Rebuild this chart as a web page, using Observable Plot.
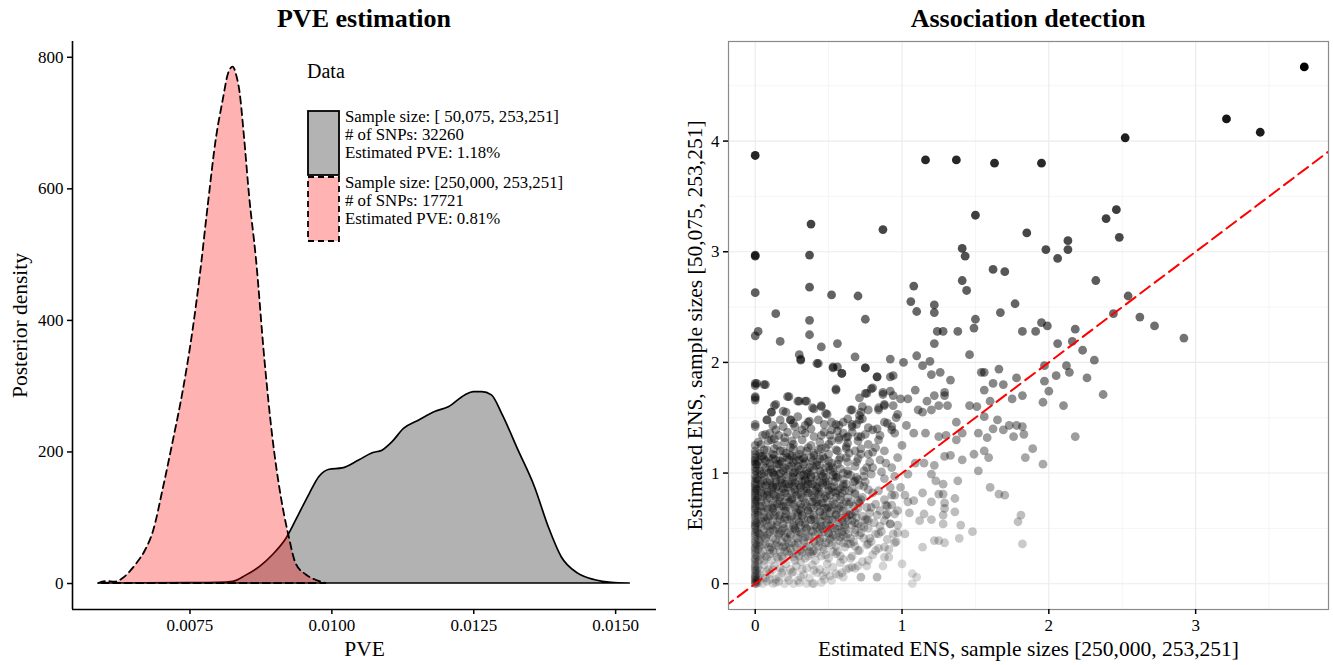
<!DOCTYPE html>
<html>
<head>
<meta charset="utf-8">
<script src="https://cdn.jsdelivr.net/npm/d3@7"></script>
<script src="https://cdn.jsdelivr.net/npm/@observablehq/plot@0.6"></script>
<style>
  body { margin: 0; background: #fff; }
  #root { position: relative; width: 1333px; height: 665px; font-family: 'Liberation Serif', 'Times New Roman', serif; color: #000; overflow: hidden; }
  .ptitle { position: absolute; top: 6px; font-weight: bold; font-size: 26px; line-height: 25px; text-align: center; }
  .leg { position: absolute; font-size: 16.8px; line-height: 18px; white-space: nowrap; }
</style>
</head>
<body>
<div id="root">
  <div class="ptitle" style="left:72px;width:584px;">PVE estimation</div>
  <div class="ptitle" style="left:728px;width:600px;">Association detection</div>
  <div id="left" style="position:absolute;left:0;top:30px;"></div>
  <div id="right" style="position:absolute;left:666px;top:30px;"></div>
  <div id="legend"></div>
</div>
<script>
// ---------- Left panel: posterior densities of PVE ----------
const pveGreyX = [0.0059,0.0075,0.0080,0.00826,0.00849,0.00873,0.00896,0.0092,0.00943,0.00961,0.00978,0.00996,0.01019,0.01048,0.01072,0.01089,0.01107,0.01127,0.01154,0.01183,0.01206,0.01235,0.0125,0.01265,0.01282,0.0130,0.01329,0.01358,0.01382,0.01405,0.01434,0.01464,0.01493,0.01525];
const pveGreyDensity = [0,0.5,1,2.5,12,25,43,68,106,136,162,173,175,187,198,202,215,235,248,261,268,286,291,291,286,258,202,146,86,40,15,5,1,0];
const pvePinkX = [0.00589,0.00603,0.00618,0.00633,0.00645,0.00658,0.00671,0.00686,0.00703,0.00721,0.00738,0.00756,0.00768,0.00782,0.00797,0.00808,0.00818,0.00826,0.00833,0.00838,0.00846,0.00855,0.00867,0.00882,0.00896,0.00911,0.00925,0.00937,0.00955,0.00972,0.0099];
const pvePinkDensity = [0,3,2,8,18,32,49,80,144,218,292,388,467,573,679,732,775,785,770,748,679,589,494,340,222,131,70,30,13,5,0];
const leftXDomain = [0.00543, 0.01572];
const leftYDomain = [-39.5, 824];
const leftXTicks = [0.0075, 0.0100, 0.0125, 0.0150];
const leftYTicks = [0, 200, 400, 600, 800];
const legendTitle = "Data";
const legendGrey = ["Sample size: [ 50,075, 253,251]", "# of SNPs: 32260", "Estimated PVE: 1.18%"];
const legendPink = ["Sample size: [250,000, 253,251]", "# of SNPs: 17721", "Estimated PVE: 0.81%"];

// ---------- Right panel: estimated ENS ----------
const ensXDomain = [-0.182, 3.905];
const ensYDomain = [-0.233, 4.9];
const ensXTicks = [0, 1, 2, 3];
const ensYTicks = [0, 1, 2, 3, 4];
const ensXMinor = [0.5, 1.5, 2.5, 3.5];
const ensYMinor = [0.5, 1.5, 2.5, 3.5, 4.5];
const diagonal = [-1, 6];
const ensPoints = [
[0,3.87],[0,2.96],[0,2.97],[0,2.63],[3.74,4.67],[3.21,4.2],[3.44,4.08],[2.52,4.03],[1.16,3.83],[1.37,3.83],[1.63,3.8],[1.95,3.8],
[0.38,3.25],[0.87,3.2],[1.5,3.33],[1.85,3.17],[1.41,3.03],[1.43,2.96],[1.98,3.02],[2.13,3.1],[2.13,3.02],[2.06,2.94],[2.39,3.3],[2.46,3.38],
[2.48,3.13],[0.37,2.97],[0.37,2.68],[0.52,2.61],[0.7,2.6],[1.62,2.84],[1.7,2.82],[1.41,2.74],[1.44,2.65],[1.08,2.69],[2.32,2.74],[2.54,2.6],
[1.06,2.55],[1.1,2.46],[1.22,2.52],[1.22,2.45],[1.77,2.53],[1.67,2.45],[2.62,2.41],[2.44,2.44],[2.72,2.33],[0.14,2.44],[0.37,2.38],[0.75,2.39],
[1.5,2.39],[1.95,2.36],[1.99,2.33],[2.18,2.3],[1.49,2.31],[1.82,2.28],[1.91,2.28],[1.24,2.28],[1.28,2.28],[1.38,2.28],[0.02,2.28],
[2.92,2.22],[2.18,1.33],[2.37,1.71],[2.26,1.86],[2.31,2.02],[2.23,2.11],[2.16,2.19],[2.06,2.17],[2.14,1.91],[2.12,1.97],[2.1,1.61],[1.96,1.64],
[2.0,1.74],[2.05,1.88],[1.97,1.83],[1.97,1.97],[1.96,1.08],[1.89,1.22],[1.84,1.14],[1.83,1.35],[1.82,1.42],[1.78,1.43],[1.73,1.43],[1.69,1.39],
[1.76,1.33],[1.82,1.7],[1.78,1.86],[1.75,1.67],[1.69,1.8],[1.62,1.81],[1.66,1.94],[1.56,1.91],[1.56,1.75],[1.62,1.4],[1.65,1.48],[1.56,1.51],
[1.6,1.65],[1.51,1.6],[1.46,1.61],[1.52,1.36],[1.58,1.32],[1.56,1.2],[1.59,1.14],[1.52,1.02],[1.49,1.17],[1.6,0.87],[1.66,0.81],[1.7,0.8],
[1.81,0.62],[1.79,0.56],[1.82,0.36],[1.48,0.47],[1.39,0.41],[1.4,0.53],[1.36,0.65],[1.36,0.77],[1.38,0.93],[1.41,1.12],[1.41,1.36],[1.37,1.46],
[1.46,2.07],[1.54,1.91],[1.26,1.91],[1.2,1.89],[1.14,1.97],[1.19,2.01],[1.1,2.06],[1.22,2.17],[1.01,2.0],[0.92,2.03],[0.92,1.87],[0.83,1.87],
[0.75,1.95],[0.68,2.05],[0.56,2.17],[0.45,2.14],[0.37,2.25],[0.17,2.19],[0.3,2.07],[0.31,2.03],[0.42,1.99],[0.53,1.95],[0.56,1.96],[0.59,1.9],
[0.55,1.75],[0.75,1.72],[0.8,1.77],[0.87,1.71],[0.94,1.7],[0.99,1.67],[1.04,1.67],[1.09,1.75],[1.11,1.57],[1.14,1.55],[1.17,1.65],[1.22,1.7],
[1.25,1.61],[1.29,1.7],[1.31,1.61],[1.33,1.84],[1.29,1.73],[1.2,1.57],[0,1.81],[0.06,1.8],[0,1.69],[0,1.66],[0,1.42],[0.08,1.48],[0,2.24],
[0.22,1.69],[0.19,1.56],[0.13,1.61],[0.11,1.55],[0.29,1.65],[0.34,1.65],[0.39,1.59],[0.45,1.61],[0.48,1.54],[0.65,1.57],[0.73,1.6],[0.71,1.52],
[0.84,1.57],[0.88,1.61],[0.96,1.5],[1.03,1.43],[1.08,1.36],[1.16,1.36],[1.25,1.33],[1.3,1.34],[1.37,1.3],[1.33,1.16],[1.29,1.15],[1.22,1.07],
[1.15,1.09],[1.09,1.09],[1.04,0.99],[1.2,0.99],[1.23,0.93],[1.28,0.9],[1.28,0.81],[1.25,0.81],[1.29,0.73],[1.29,0.68],[1.2,0.74],[1.14,0.82],
[1.08,0.75],[1.04,0.74],[1.02,0.8],[0.99,0.87],[0.97,0.66],[1.05,0.64],[1.15,0.63],[1.2,0.58],[1.12,0.57],[1.28,0.54],[1.28,0.62],[1.22,0.39],
[1.25,0.39],[1.29,0.37],[1.14,0.33],[1.02,0.45],[0.94,0.45],[0.96,0.38],[0.91,0.31],[0.88,0.24],[0.87,0.16],[1.0,0.18],[1.07,0.09],[1.1,0.06],
[1.07,0.0],[0.83,0.06],[0.72,0.06],[0.64,0.14],[0.68,0.14],[0.76,0.16],[0.57,0.08],[0.52,0.03],[0.4,0.0],[0.26,0.0],[0.14,0.01],[0.46,0.07],
[0.65,0.23],[0.77,0.21],[0.82,0.3],[0.78,0.41],[0.84,0.45],[0.85,0.52],[0.92,0.54],[0.89,0.62],[0.83,0.62],[0.77,0.57],[0.79,0.69],[0.93,0.71],
[0.88,0.76],[0.84,0.84],[0.92,0.87],[0.88,0.95],[0.95,0.97],[0.93,1.05],[0.89,1.09],[0.97,1.14],[1.0,1.25],[0.95,1.36],[0.93,1.42],[0.9,1.45],
[0.85,1.34],[0.8,1.39],[0.82,1.23],[0.77,1.17],[0.72,1.17],[0.69,1.1],[0.62,1.14],[0.62,1.22],[0.57,1.32],[0.52,1.29],[0.45,1.34],[0.52,1.39],
[0.57,1.43],[0.66,1.44],[0.71,1.48],[0.63,1.33],[0.72,1.33],[0.43,1.48],[0.36,1.46],[0.29,1.51],[0.24,1.48],[0.19,1.42],[0.14,1.39],[0.11,1.3],
[0.05,1.34],[0.02,1.28],[0,1.14],[0.01,1.08],[0.01,1.02],[0,0.9],[0.05,0.93],[0.12,0.87],[0.2,0.9],[0.26,0.96],[0.32,0.92],[0.38,0.96],
[0.43,0.87],[0.48,0.96],[0.53,1.05],[0.56,0.96],[0.63,0.99],[0.69,0.96],[0.75,0.92],[0.79,0.99],[0.76,1.05],
[0.01,1.81],[0.07,1.8],[0,1.68],[0.23,1.69],[0.14,1.62],[0.11,1.55],[0.21,1.55],[0.3,1.65],[0.35,1.65],[0.4,1.58],[0.45,1.6],[0.49,1.53],
[0.55,1.76],[0.53,1.96],[0.59,1.9],[0.75,1.95],[0.83,1.87],[0.94,1.88],[0.43,1.99],[0.31,2.02],[0.76,1.72],[0.79,1.76],[0.71,1.68],[0.66,1.57],
[0.72,1.55],[0.77,1.57],[0.87,1.73],[0.92,1.74],[0.84,1.59],[0.88,1.62],[0.94,1.61],[0.97,1.53],[0.08,1.48],[0,1.44],[0.17,1.48],[0.24,1.48],
[0.27,1.42],[0.37,1.47],[0.32,1.39],[0.38,1.4],[0.52,1.46],[0.55,1.44],[0.63,1.49],[0.66,1.42],[0.73,1.49],[0.77,1.41],[0.83,1.4],[0.88,1.46],
[0.93,1.39],[0.07,1.35],[0.13,1.31],[0.2,1.32],[0.25,1.29],[0.47,1.37],[0.51,1.34],[0.56,1.38],[0.62,1.32],[0.7,1.33],
[0.91,0.24],[0.83,0.06],[0.72,0.06],[0.88,0.33],[0.95,0.37],[0.97,0.46],[0.92,0.54],[0.9,0.63],[0.89,0.71],[0.95,0.8],[0.82,0.45],[0.77,0.36],
[0.7,0.3],[0.66,0.15],[0.59,0.1],[0.51,0.07],[0.45,0.01],[0.39,0.0],
[0,0],[0,0.01],[0,0.02],[0,0.03],[0,0.05],[0,0.07],[0,0.1],[0,0.12],[0,0.15],[0,0.18],[0,0.2],[0,0.23],[0,0.26],[0,0.3],[0,0.33],[0,0.36],
[0,0.4],[0,0.43],[0,0.47],[0,0.5],[0,0.53],[0,0.57],[0,0.6],[0,0.64],[0,0.67],[0,0.7],[0,0.74],[0,0.78],[0,0.82],[0,0.86],[0,0.95],[0,1.02],
[0,1.08],[0,1.12],[0,1.2],[0,1.25],[0,1.79],[0,0.0],[0.01,0.04],[0.01,0.09],
[0.02,0.01],[0.05,0.0],[0.08,0.02],[0.12,0.0],[0.16,0.02],[0.2,0.0],[0.3,0.01],[0.35,0.0],
[0.03,0.08],[0.07,0.05],[0.1,0.09],[0.14,0.04],[0.18,0.1],[0.22,0.06],[0.25,0.1],[0.29,0.03],[0.33,0.08],[0.37,0.05],[0.42,0.1],[0.47,0.04],[0.55,0.09],[0.6,0.06],
[0.02,0.15],[0.06,0.17],[0.09,0.13],[0.13,0.16],[0.17,0.14],[0.21,0.18],[0.24,0.13],[0.28,0.16],[0.31,0.2],[0.35,0.14],[0.39,0.17],[0.44,0.13],[0.49,0.18],[0.53,0.15],[0.58,0.19],[0.62,0.13],[0.7,0.16],
[0.03,0.22],[0.07,0.25],[0.11,0.21],[0.15,0.24],[0.19,0.22],[0.23,0.26],[0.27,0.21],[0.3,0.25],[0.34,0.23],[0.38,0.27],[0.41,0.21],[0.45,0.25],[0.5,0.23],[0.55,0.27],[0.6,0.22],[0.66,0.25],[0.73,0.2],[0.8,0.26],
[0.02,0.31],[0.05,0.29],[0.09,0.33],[0.12,0.3],[0.16,0.34],[0.2,0.29],[0.24,0.32],[0.27,0.35],[0.31,0.3],[0.35,0.33],[0.39,0.29],[0.43,0.34],[0.47,0.31],[0.52,0.35],[0.56,0.29],[0.61,0.33],[0.65,0.36],[0.71,0.3],[0.76,0.35],[0.84,0.32],
[0.03,0.38],[0.07,0.41],[0.1,0.37],[0.14,0.4],[0.18,0.38],[0.21,0.42],[0.25,0.37],[0.29,0.41],[0.33,0.39],[0.37,0.43],[0.4,0.38],[0.44,0.41],[0.48,0.37],[0.52,0.42],[0.57,0.39],[0.62,0.42],[0.67,0.38],[0.74,0.41],[0.79,0.38],[0.9,0.4],
[0.02,0.46],[0.06,0.49],[0.09,0.45],[0.13,0.48],[0.17,0.46],[0.2,0.5],[0.24,0.45],[0.28,0.48],[0.32,0.46],[0.35,0.5],[0.39,0.47],[0.43,0.45],[0.46,0.49],[0.5,0.46],[0.54,0.5],[0.59,0.47],[0.63,0.45],[0.68,0.49],[0.72,0.46],[0.77,0.5],[0.86,0.47],
[0.03,0.54],[0.07,0.57],[0.11,0.53],[0.15,0.56],[0.19,0.54],[0.22,0.58],[0.26,0.53],[0.3,0.56],[0.34,0.54],[0.38,0.58],[0.41,0.53],[0.45,0.56],[0.49,0.54],[0.53,0.58],[0.57,0.55],[0.61,0.53],[0.66,0.57],[0.7,0.54],[0.75,0.58],[0.81,0.55],[0.88,0.57],[0.97,0.53],
[0.02,0.62],[0.06,0.65],[0.1,0.61],[0.14,0.64],[0.17,0.62],[0.21,0.66],[0.25,0.61],[0.29,0.64],[0.32,0.62],[0.36,0.66],[0.4,0.62],[0.44,0.65],[0.47,0.61],[0.51,0.64],[0.55,0.62],[0.6,0.66],[0.64,0.62],[0.68,0.65],[0.73,0.61],[0.78,0.64],[0.85,0.66],[0.95,0.63],
[0.03,0.7],[0.07,0.73],[0.11,0.69],[0.15,0.72],[0.19,0.7],[0.23,0.74],[0.27,0.69],[0.31,0.72],[0.35,0.7],[0.39,0.74],[0.42,0.7],[0.46,0.73],[0.5,0.69],[0.54,0.72],[0.58,0.7],[0.62,0.74],[0.67,0.7],[0.71,0.73],[0.76,0.69],[0.82,0.72],[0.9,0.7],
[0.02,0.78],[0.06,0.81],[0.1,0.77],[0.13,0.8],[0.17,0.78],[0.21,0.82],[0.25,0.77],[0.28,0.8],[0.32,0.78],[0.36,0.82],[0.4,0.78],[0.43,0.81],[0.47,0.77],[0.51,0.8],[0.55,0.78],[0.59,0.82],[0.63,0.78],[0.68,0.81],[0.73,0.78],[0.8,0.82],[0.93,0.8],
[0.03,0.86],[0.07,0.89],[0.11,0.85],[0.15,0.88],[0.19,0.86],[0.23,0.9],[0.27,0.85],[0.31,0.88],[0.35,0.86],[0.38,0.9],[0.42,0.86],[0.46,0.89],[0.5,0.85],[0.54,0.88],[0.58,0.86],[0.62,0.9],[0.66,0.86],[0.71,0.89],[0.77,0.85],
[0.02,0.94],[0.06,0.97],[0.1,0.93],[0.14,0.96],[0.18,0.94],[0.22,0.98],[0.26,0.93],[0.3,0.96],[0.34,0.94],[0.38,0.98],[0.42,0.94],[0.46,0.97],[0.5,0.93],[0.55,0.96],[0.6,0.94],[0.65,0.98],[0.7,0.94],[0.74,0.97],
[0.03,1.02],[0.07,1.05],[0.11,1.01],[0.15,1.04],[0.19,1.02],[0.23,1.06],[0.27,1.01],[0.31,1.04],[0.35,1.02],[0.39,1.06],[0.44,1.02],[0.48,1.05],[0.53,1.01],[0.58,1.04],[0.63,1.02],[0.68,1.06],[0.74,1.02],[0.8,1.05],[0.86,1.01],
[0.02,1.1],[0.06,1.13],[0.1,1.09],[0.14,1.12],[0.18,1.1],[0.22,1.14],[0.26,1.09],[0.3,1.12],[0.34,1.1],[0.38,1.14],[0.42,1.1],[0.47,1.13],[0.52,1.09],[0.57,1.12],[0.63,1.1],[0.7,1.13],[0.78,1.1],[0.85,1.12],
[0.03,1.18],[0.08,1.21],[0.12,1.17],[0.17,1.2],[0.21,1.18],[0.26,1.22],[0.3,1.17],[0.35,1.2],[0.4,1.18],[0.45,1.22],[0.5,1.17],[0.56,1.2],[0.64,1.18],[0.72,1.22],[0.8,1.19],[0.88,1.2],
[0.04,1.26],[0.09,1.29],[0.15,1.25],[0.2,1.28],[0.26,1.26],[0.32,1.3],[0.38,1.25],[0.44,1.28],[0.5,1.26],[0.57,1.3],[0.63,1.27],[0.7,1.29],[0.77,1.26],[0.84,1.3],
[0.05,0.35],[0.09,0.52],[0.12,0.68],[0.16,0.44],[0.2,0.6],[0.24,0.76],[0.27,0.5],[0.31,0.66],[0.34,0.42],[0.38,0.58],[0.42,0.74],[0.45,0.52],
[0.49,0.68],[0.53,0.44],[0.56,0.84],[0.6,0.56],[0.64,0.72],[0.26,0.88],[0.14,0.92],[0.08,0.8],[0.36,0.9],[0.48,0.92],[0.22,0.4],[0.3,0.55],
[0.18,0.7],[0.1,0.27],[0.4,0.3],[0.2,0.35],[0.05,1.15],[0.15,1.08],[0.25,1.15],[0.12,1.0],[0.33,0.98],[0.44,1.07],[0.55,0.98],[0.62,0.6],
[0.68,0.55],[0.28,0.27],[0.16,0.22],[0.06,0.6],[0.03,0.45],[0.01,0.25],[0.01,0.55],[0.01,0.75],[0.01,0.95],
[0.04,0.27],[0.08,0.24],[0.13,0.28],[0.18,0.25],[0.22,0.29],[0.26,0.24],[0.32,0.28],[0.36,0.25],[0.42,0.28],[0.48,0.26],[0.53,0.29],[0.58,0.25],
[0.03,0.34],[0.07,0.36],[0.11,0.33],[0.15,0.37],[0.19,0.33],[0.23,0.36],[0.28,0.33],[0.33,0.37],[0.37,0.34],[0.41,0.36],[0.46,0.33],[0.5,0.37],[0.55,0.34],[0.6,0.37],[0.68,0.34],
[0.04,0.42],[0.08,0.44],[0.12,0.41],[0.16,0.45],[0.2,0.42],[0.24,0.44],[0.28,0.41],[0.31,0.45],[0.36,0.42],[0.41,0.44],[0.46,0.41],[0.5,0.45],[0.55,0.42],[0.6,0.44],[0.65,0.41],[0.71,0.44],
[0.04,0.5],[0.08,0.52],[0.12,0.49],[0.15,0.53],[0.19,0.5],[0.23,0.52],[0.27,0.49],[0.31,0.53],[0.35,0.5],[0.4,0.52],[0.44,0.49],[0.48,0.53],[0.52,0.5],[0.57,0.52],[0.62,0.49],[0.66,0.53],[0.74,0.51],
[0.04,0.58],[0.08,0.6],[0.12,0.57],[0.16,0.61],[0.2,0.58],[0.24,0.6],[0.28,0.57],[0.32,0.61],[0.36,0.58],[0.4,0.6],[0.44,0.57],[0.48,0.61],[0.52,0.58],[0.57,0.6],[0.63,0.57],[0.69,0.6],[0.76,0.58],
[0.04,0.66],[0.08,0.68],[0.12,0.65],[0.16,0.69],[0.2,0.66],[0.24,0.68],[0.28,0.65],[0.32,0.69],[0.36,0.66],[0.4,0.68],[0.44,0.65],[0.48,0.69],[0.52,0.66],[0.57,0.68],[0.62,0.65],[0.7,0.68],
[0.04,0.74],[0.08,0.76],[0.12,0.73],[0.16,0.77],[0.2,0.74],[0.25,0.76],[0.29,0.73],[0.33,0.77],[0.37,0.74],[0.41,0.76],[0.45,0.73],[0.49,0.77],[0.53,0.74],[0.58,0.76],[0.65,0.74],[0.72,0.76],
[0.04,0.82],[0.08,0.84],[0.12,0.81],[0.16,0.85],[0.2,0.82],[0.24,0.84],[0.29,0.81],[0.33,0.85],[0.37,0.82],[0.41,0.84],[0.45,0.81],[0.5,0.84],[0.55,0.82],[0.61,0.84],[0.68,0.82],
[0.04,0.9],[0.08,0.92],[0.12,0.89],[0.17,0.93],[0.21,0.9],[0.25,0.92],[0.3,0.89],[0.34,0.93],[0.39,0.9],[0.44,0.92],[0.49,0.89],[0.54,0.92],[0.6,0.9],[0.67,0.92],
[0.04,0.99],[0.09,1.0],[0.13,0.98],[0.17,1.0],[0.21,0.97],[0.26,1.0],[0.31,0.98],[0.36,1.0],[0.41,0.97],[0.47,1.0],[0.53,0.98],[0.6,1.0],
[0.05,1.07],[0.1,1.06],[0.16,1.08],[0.2,1.05],[0.25,1.07],[0.29,1.06],[0.33,1.08],[0.37,1.05],[0.42,1.07],[0.5,1.06],[0.56,1.08],
[0.04,1.15],[0.09,1.14],[0.13,1.16],[0.19,1.14],[0.24,1.16],[0.28,1.15],[0.33,1.14],[0.4,1.16],[0.46,1.15],
[0,0.08],[0,0.13],[0,0.16],[0,0.22],[0,0.28],[0,0.32],[0,0.38],[0,0.45],[0,0.52],[0,0.55],[0,0.62],[0,0.68],[0,0.72],[0,0.76],[0,0.8],[0,0.84],
[0,0.88],[0,0.92],[0,0.98],[0,1.05],[0,1.1],[0,1.17],[0,0.04],[0,0.06],[0.01,0.0],[0.01,0.02],[0.02,0.05],[0.01,0.12],[0.02,0.2],[0.01,0.35],
[0.02,0.4],[0.01,0.48],[0.02,0.65],[0.01,0.85],
[0.06,0.21],[0.1,0.31],[0.14,0.35],[0.17,0.29],[0.21,0.33],[0.25,0.28],[0.29,0.37],[0.33,0.31],[0.37,0.29],[0.44,0.38],[0.51,0.4],[0.57,0.46],
[0.06,0.43],[0.1,0.47],[0.14,0.51],[0.18,0.48],[0.22,0.46],[0.26,0.51],[0.3,0.47],[0.34,0.52],[0.38,0.48],[0.42,0.51],[0.47,0.47],[0.51,0.52],[0.56,0.49],[0.61,0.51],
[0.05,0.56],[0.09,0.59],[0.13,0.62],[0.17,0.58],[0.21,0.63],[0.25,0.58],[0.29,0.62],[0.33,0.59],[0.37,0.63],[0.41,0.58],[0.46,0.62],[0.5,0.58],[0.55,0.63],[0.59,0.59],[0.65,0.63],
[0.05,0.7],[0.09,0.67],[0.13,0.71],[0.17,0.75],[0.21,0.7],[0.26,0.72],[0.3,0.67],[0.34,0.73],[0.38,0.69],[0.43,0.72],[0.47,0.68],[0.52,0.71],[0.56,0.67],[0.6,0.72],
[0.05,0.79],[0.09,0.83],[0.14,0.79],[0.18,0.83],[0.22,0.78],[0.27,0.83],[0.31,0.8],[0.35,0.84],[0.39,0.8],[0.44,0.83],[0.48,0.79],[0.53,0.83],[0.58,0.79],
[0.05,0.88],[0.1,0.91],[0.14,0.87],[0.18,0.91],[0.22,0.87],[0.27,0.91],[0.31,0.87],[0.36,0.92],[0.41,0.88],[0.46,0.91],[0.52,0.87],
[0.06,1.0],[0.11,1.03],[0.16,0.99],[0.21,1.04],[0.26,1.0],[0.3,1.03],[0.35,0.99],[0.4,1.03],[0.45,0.99],[0.51,1.03],
[0.07,1.11],[0.12,1.13],[0.17,1.11],[0.23,1.12],[0.28,1.11],[0.33,1.13],[0.39,1.11],[0.44,1.13],[0.5,1.11],[0.58,1.14],
[0.06,1.21],[0.13,1.22],[0.19,1.2],[0.24,1.23],[0.31,1.21],[0.36,1.23],[0.43,1.21],[0.48,1.23],[0.55,1.21],[0.62,1.24],[0.68,1.2],
[0.1,1.36],[0.16,1.34],[0.22,1.37],[0.28,1.35],[0.34,1.36],[0.4,1.33],[0.6,1.36],[0.66,1.37],[0.75,1.35],
[0.12,1.43],[0.26,1.45],[0.34,1.43],[0.47,1.44],[0.6,1.46],[0.69,1.44],
[0.03,0.12],[0.08,0.11],[0.12,0.13],[0.19,0.12],[0.26,0.11],[0.32,0.13],[0.4,0.12],[0.48,0.11],
[0.05,0.05],[0.1,0.04],[0.16,0.06],[0.23,0.03],[0.31,0.06],
[0.68,0.46],[0.72,0.52],[0.66,0.62],[0.7,0.75],[0.64,0.84],[0.74,0.88],[0.68,0.93],[0.6,0.88],[0.58,0.42],[0.63,0.36]
];

// ---------- build tables ----------
const greyData = pveGreyX.map((x, i) => ({pve: x, density: pveGreyDensity[i]}));
const pinkData = pvePinkX.map((x, i) => ({pve: x, density: pvePinkDensity[i]}));
const font = "'Liberation Serif', 'Times New Roman', serif";

const leftPlot = Plot.plot({
  width: 666, height: 635,
  marginLeft: 72, marginRight: 10, marginTop: 11, marginBottom: 56,
  style: {fontFamily: font, fontSize: "17px", color: "#000", background: "transparent", overflow: "visible"},
  x: {domain: leftXDomain},
  y: {domain: leftYDomain},
  marks: [
    Plot.areaY(greyData, {x: "pve", y: "density", fill: "black", fillOpacity: 0.3, stroke: "black", strokeWidth: 1.7, curve: "monotone-x"}),
    Plot.areaY(pinkData, {x: "pve", y: "density", fill: "red", fillOpacity: 0.3, stroke: "black", strokeWidth: 1.8, strokeDasharray: "7,4.5", curve: "monotone-x"}),
    Plot.ruleX([leftXDomain[0]], {stroke: "black", strokeWidth: 1.6}),
    Plot.ruleY([leftYDomain[0]], {stroke: "black", strokeWidth: 1.6}),
    Plot.axisX(leftXTicks, {tickFormat: d => d.toFixed(4), tickSize: 5, tickPadding: 4, strokeWidth: 1.5, label: null}),
    Plot.axisY(leftYTicks, {tickFormat: d => String(d), tickSize: 5, tickPadding: 4, strokeWidth: 1.5, label: null}),
    Plot.text(["PVE"], {text: d => d, frameAnchor: "bottom", lineAnchor: "middle", textAnchor: "middle", dy: 40, fontSize: 21.5}),
    Plot.text(["Posterior density"], {text: d => d, frameAnchor: "left", lineAnchor: "middle", textAnchor: "middle", rotate: -90, dx: -52, fontSize: 21.5})
  ]
});
document.getElementById("left").appendChild(leftPlot);

const rightPlot = Plot.plot({
  width: 667, height: 635,
  marginLeft: 62, marginRight: 5, marginTop: 11, marginBottom: 56,
  style: {fontFamily: font, fontSize: "17px", color: "#000", background: "transparent", overflow: "visible"},
  x: {domain: ensXDomain},
  y: {domain: ensYDomain},
  opacity: {domain: [0, 4.67], range: [0.14, 1]},
  marks: [
    Plot.ruleX(ensXMinor, {x: d => d, stroke: "#f3f3f3", strokeWidth: 0.8}),
    Plot.ruleY(ensYMinor, {y: d => d, stroke: "#f3f3f3", strokeWidth: 0.8}),
    Plot.ruleX(ensXTicks, {x: d => d, stroke: "#ebebeb", strokeWidth: 1.1}),
    Plot.ruleY(ensYTicks, {y: d => d, stroke: "#ebebeb", strokeWidth: 1.1}),
    Plot.dot(ensPoints, {x: d => d[0], y: d => d[1], r: 4.4, fill: "black", fillOpacity: d => d[1], stroke: "none"}),
    Plot.line(diagonal, {x: d => d, y: d => d, stroke: "red", strokeWidth: 2, strokeDasharray: "12,6", clip: true}),
    Plot.frame({stroke: "#8a8a8a", strokeWidth: 1.2}),
    Plot.axisX(ensXTicks, {tickFormat: d => String(d), tickSize: 5, tickPadding: 4, strokeWidth: 1.5, label: null}),
    Plot.axisY(ensYTicks, {tickFormat: d => String(d), tickSize: 5, tickPadding: 4, strokeWidth: 1.5, label: null}),
    Plot.text(["Estimated ENS, sample sizes [250,000, 253,251]"], {text: d => d, frameAnchor: "bottom", lineAnchor: "middle", textAnchor: "middle", dy: 40, fontSize: 21.5}),
    Plot.text(["Estimated ENS, sample sizes [50,075, 253,251]"], {text: d => d, frameAnchor: "left", lineAnchor: "middle", textAnchor: "middle", rotate: -90, dx: -33, fontSize: 21.5})
  ]
});
document.getElementById("right").appendChild(rightPlot);

// ---------- legend (HTML + inline SVG keys) ----------
const legend = document.getElementById("legend");
legend.innerHTML =
  `<div class="leg" style="left:307px;top:61px;font-size:20px;line-height:20px;">${legendTitle}</div>` +
  `<svg style="position:absolute;left:307px;top:110px;" width="34" height="134">` +
    `<rect x="1" y="1" width="31" height="64" fill="#b3b3b3" stroke="#000" stroke-width="1.8"/>` +
    `<rect x="1" y="67" width="31" height="64" fill="#ffb3b3" stroke="#000" stroke-width="1.8" stroke-dasharray="6,4"/>` +
  `</svg>` +
  `<div class="leg" style="left:345px;top:108px;">${legendGrey.join("<br>")}</div>` +
  `<div class="leg" style="left:345px;top:174px;">${legendPink.join("<br>")}</div>`;
</script>
</body>
</html>
